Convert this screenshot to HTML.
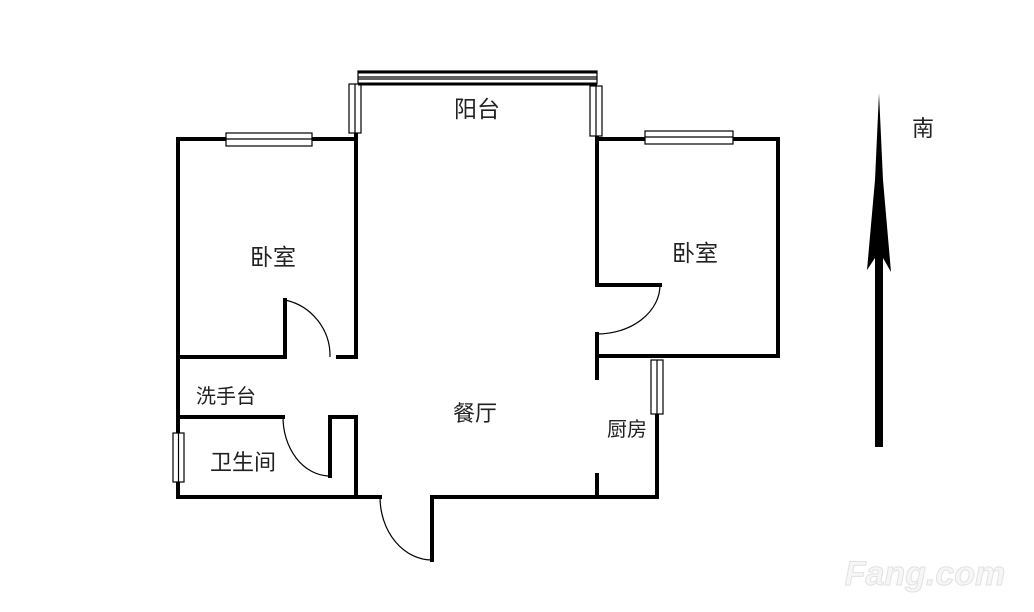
<!DOCTYPE html>
<html><head><meta charset="utf-8"><style>
html,body{margin:0;padding:0;background:#fff;}
svg{display:block;}
text{font-family:"Liberation Sans","Noto Sans CJK SC",sans-serif;fill:#222;}
</style></head><body>
<svg width="1034" height="612" viewBox="0 0 1034 612" xmlns="http://www.w3.org/2000/svg">
<g stroke="#000" stroke-width="4" fill="none" stroke-linecap="square">
<polyline points="356,135 356,357 338,357"/>
<polyline points="226,139 178,139 178,497"/>
<line x1="312" y1="139" x2="356" y2="139"/>
<polyline points="178,357 285,357 285,300"/>
<line x1="178" y1="417" x2="283" y2="417"/>
<polyline points="330,476 330,417 356,417 356,497"/>
<line x1="178" y1="497" x2="380" y2="497"/>
<polyline points="432,560 432,497 657,497 657,414"/>
<polyline points="597,136 597,285 660,285"/>
<line x1="597" y1="139" x2="645" y2="139"/>
<polyline points="733,139 778,139 778,356 597,356"/>
<line x1="597" y1="334" x2="597" y2="378"/>
<line x1="597" y1="475" x2="597" y2="497"/>
</g>
<g stroke="#000" stroke-width="1.2" fill="#fff">
<rect x="358" y="71" width="239" height="13"/>
<line x1="358" y1="77" x2="597" y2="77"/><line x1="358" y1="79" x2="597" y2="79"/>
<rect x="349" y="84" width="12" height="49"/><line x1="355" y1="84" x2="355" y2="133"/>
<rect x="590" y="86" width="12" height="50"/><line x1="596" y1="86" x2="596" y2="136"/>
<rect x="226" y="133" width="86" height="13"/><line x1="226" y1="139" x2="312" y2="139"/>
<rect x="645" y="131" width="88" height="13"/><line x1="645" y1="137" x2="733" y2="137"/>
<rect x="651" y="360" width="12" height="54"/><line x1="657" y1="360" x2="657" y2="414"/>
<rect x="173" y="433" width="11" height="49"/><line x1="178.5" y1="433" x2="178.5" y2="482"/>
</g>
<g stroke="#000" stroke-width="3" fill="none">
<line x1="358" y1="72" x2="597" y2="72"/>
<line x1="358" y1="84" x2="597" y2="84"/>
</g>
<g stroke="#000" stroke-width="1.2" fill="none">
<path d="M285,300 A57,57 0 0 1 330,357"/>
<path d="M283,417 A47,59 0 0 0 328,476"/>
<path d="M380,497 A52,63 0 0 0 432,560"/>
<path d="M660,285 A63,49 0 0 1 597,334"/>
</g>
<polygon points="879,93 883,180 891,272 883,258 883,447 875,447 875,258 867,270 875,180" fill="#000"/>
<text x="477" y="117" font-size="23" text-anchor="middle">阳台</text>
<text x="273" y="265" font-size="23" text-anchor="middle">卧室</text>
<text x="695" y="261" font-size="23" text-anchor="middle">卧室</text>
<text x="226" y="403" font-size="20" text-anchor="middle">洗手台</text>
<text x="243" y="470" font-size="22" text-anchor="middle">卫生间</text>
<text x="475" y="421" font-size="22" text-anchor="middle">餐厅</text>
<text x="627" y="436" font-size="20" text-anchor="middle">厨房</text>
<text x="923" y="136" font-size="22" text-anchor="middle">南</text>
<text x="925" y="585" font-size="34" font-weight="bold" font-style="italic" text-anchor="middle" style="fill:#f6f6f6;stroke:#e2e2e2;stroke-width:1">Fang.com</text>
</svg>
</body></html>
